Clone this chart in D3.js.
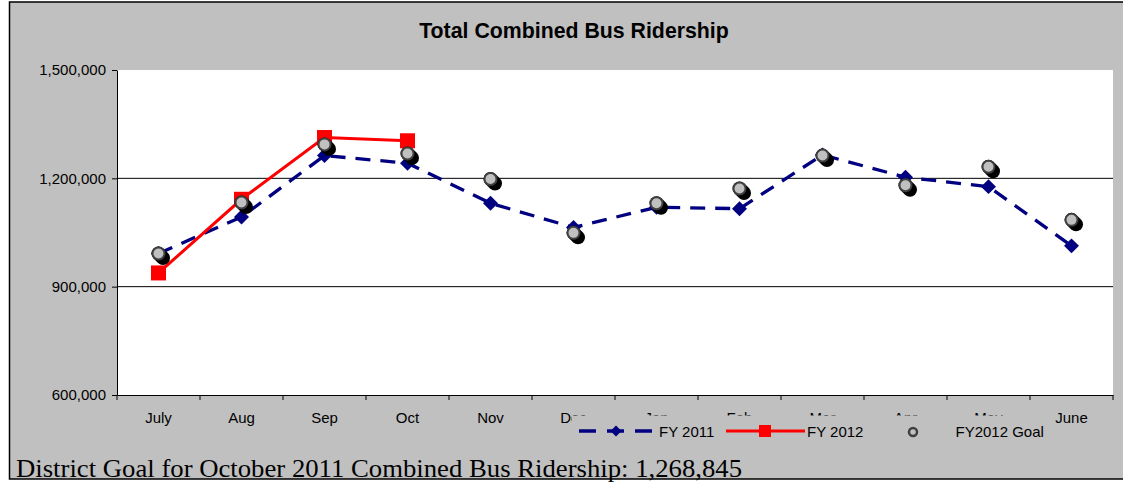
<!DOCTYPE html>
<html>
<head>
<meta charset="utf-8">
<script src="https://cdn.jsdelivr.net/npm/d3@7"></script>
<style>
  html, body { margin: 0; padding: 0; background: #ffffff; }
  svg { display: block; }
</style>
</head>
<body>
<svg id="chart" width="1123" height="482"></svg>
<script>
const months = ["July","Aug","Sep","Oct","Nov","Dec","Jan","Feb","Mar","Apr","May","June"];
const fy2011 = [992000, 1093000, 1263000, 1242000, 1131000, 1064000, 1120000, 1116000, 1265000, 1203000, 1177000, 1013000];
const fy2012 = [938000, 1142000, 1313000, 1304000];
const goal2012 = [992000, 1133000, 1294000, 1268845, 1198000, 1049000, 1131000, 1172000, 1263000, 1181000, 1232000, 1085000];
const yTicks = [600000, 900000, 1200000, 1500000];
const gridValues = [900000, 1200000];
const titleText = "Total Combined Bus Ridership";
const footText = "District Goal for October 2011 Combined Bus Ridership: 1,268,845";
const legendLabels = ["FY 2011", "FY 2012", "FY2012 Goal"];

const SANS = "Arial, 'Liberation Sans', sans-serif";
const SERIF = "'Liberation Serif', 'Times New Roman', 'DejaVu Serif', serif";

const svg = d3.select("#chart");
const plot = {left: 117, right: 1113, top: 70, bottom: 395};

// chart background
svg.append("rect").attr("x", 9.5).attr("y", 2).attr("width", 1130).attr("height", 477)
  .attr("fill", "#c0c0c0").attr("stroke", "#000").attr("stroke-width", 1.5);

// plot area
svg.append("rect").attr("x", plot.left).attr("y", plot.top)
  .attr("width", plot.right - plot.left).attr("height", plot.bottom - plot.top)
  .attr("fill", "#fff");

const x = d3.scaleBand().domain(months).range([plot.left, plot.right]).padding(0);
const y = d3.scaleLinear().domain([600000, 1500000]).range([plot.bottom, plot.top]);
const cx = m => x(m) + x.bandwidth() / 2;

// gridlines
svg.append("g").selectAll("line").data(gridValues).join("line")
  .attr("x1", plot.left).attr("x2", plot.right)
  .attr("y1", d => y(d)).attr("y2", d => y(d))
  .attr("stroke", "#000").attr("stroke-width", 1);

// y axis
const yAxis = svg.append("g").attr("transform", `translate(${plot.left},0)`)
  .call(d3.axisLeft(y).tickValues(yTicks).tickFormat(d3.format(",")).tickSize(5).tickSizeOuter(0).tickPadding(6));
yAxis.selectAll("text").style("font-size", "15px").style("font-family", SANS).attr("fill", "#000");
yAxis.selectAll("line, path").attr("stroke", "#000");

// x axis
const xAxis = svg.append("g").attr("transform", `translate(0,${plot.bottom})`)
  .call(d3.axisBottom(x).tickSize(0).tickSizeOuter(0).tickPadding(17));
xAxis.selectAll("text").style("font-size", "15px").style("font-family", SANS).attr("fill", "#000");
xAxis.select("path").attr("stroke", "#000");
const boundaries = months.map(m => x(m)).concat([x(months[months.length - 1]) + x.bandwidth()]);
svg.append("g").selectAll("line").data(boundaries).join("line")
  .attr("x1", d => d).attr("x2", d => d)
  .attr("y1", plot.bottom).attr("y2", plot.bottom + 5)
  .attr("stroke", "#000");

// FY 2011 line
const lineGen = d3.line().x((d, i) => cx(months[i])).y(d => y(d));
svg.append("path").datum(fy2011).attr("d", lineGen)
  .attr("fill", "none").attr("stroke", "#000080").attr("stroke-width", 3.3)
  .attr("stroke-dasharray", "15,10");
svg.append("g").selectAll("path").data(fy2011).join("path")
  .attr("d", d3.symbol().type(d3.symbolSquare).size(112))
  .attr("transform", (d, i) => `translate(${cx(months[i])},${y(d)}) rotate(45)`)
  .attr("fill", "#000080");

// FY 2012 line
svg.append("path").datum(fy2012).attr("d", lineGen)
  .attr("fill", "none").attr("stroke", "#ff0000").attr("stroke-width", 3);
svg.append("g").selectAll("rect").data(fy2012).join("rect")
  .attr("x", (d, i) => cx(months[i]) - 7.5).attr("y", d => y(d) - 7.5)
  .attr("width", 15).attr("height", 15).attr("fill", "#ff0000");

// FY2012 goal markers (cylinder look)
const g = svg.append("g").selectAll("g").data(goal2012).join("g")
  .attr("transform", (d, i) => `translate(${cx(months[i])},${y(d)})`);
g.append("line").attr("x1", 0).attr("y1", 0).attr("x2", 4.5).attr("y2", 4.5)
  .attr("stroke", "#000").attr("stroke-width", 14).attr("stroke-linecap", "round");
g.append("circle").attr("r", 6).attr("fill", "#c0c0c0")
  .attr("stroke", "#404040").attr("stroke-width", 2);

// title
svg.append("text").attr("x", 574).attr("y", 38).attr("text-anchor", "middle")
  .style("font-family", SANS).style("font-size", "21.3px").style("font-weight", "bold")
  .attr("fill", "#000").text(titleText);

// legend
const lg = svg.append("g");
lg.append("rect").attr("x", 572).attr("y", 415.5).attr("width", 478).attr("height", 36).attr("fill", "#c0c0c0");
const ly = 431;
lg.append("line").attr("x1", 579).attr("x2", 652).attr("y1", ly).attr("y2", ly)
  .attr("stroke", "#000080").attr("stroke-width", 3.3).attr("stroke-dasharray", "17,11");
lg.append("path").attr("d", d3.symbol().type(d3.symbolSquare).size(60)())
  .attr("transform", `translate(616,${ly}) rotate(45)`).attr("fill", "#000080");
lg.append("line").attr("x1", 726).attr("x2", 805).attr("y1", ly).attr("y2", ly)
  .attr("stroke", "#ff0000").attr("stroke-width", 3);
lg.append("rect").attr("x", 759).attr("y", ly - 6).attr("width", 12).attr("height", 12).attr("fill", "#ff0000");
lg.append("circle").attr("cx", 913).attr("cy", ly + 1).attr("r", 4).attr("fill", "#c0c0c0")
  .attr("stroke", "#404040").attr("stroke-width", 2.5);
lg.selectAll("text.leg").data(legendLabels).join("text").attr("class", "leg")
  .attr("x", (d, i) => [659, 807, 955.5][i]).attr("y", ly + 5.5)
  .style("font-family", SANS).style("font-size", "15px").attr("fill", "#000")
  .text(d => d);

// footnote
svg.append("text").attr("x", 16).attr("y", 477)
  .attr("textLength", 726).attr("lengthAdjust", "spacingAndGlyphs")
  .style("font-family", SERIF).style("font-size", "25px").attr("fill", "#000").text(footText);
</script>
</body>
</html>
